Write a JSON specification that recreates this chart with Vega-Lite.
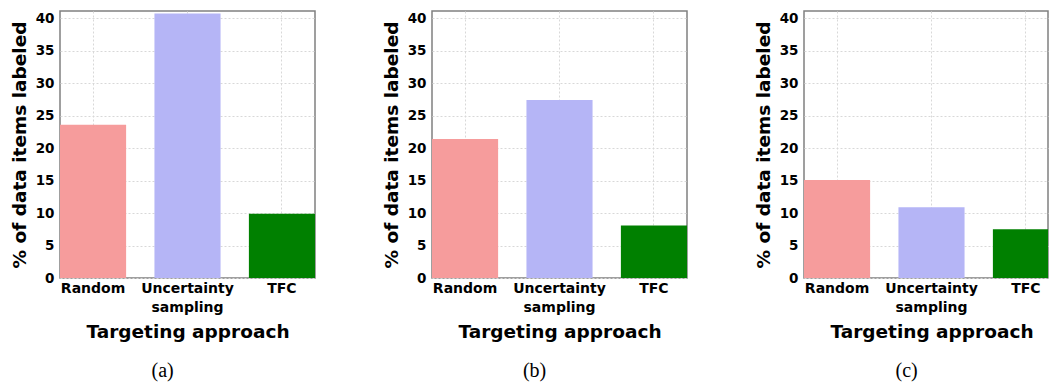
{
  "$schema": "https://vega.github.io/schema/vega-lite/v6.json",
  "padding": {"left": 9, "top": 10, "right": 0, "bottom": 0},
  "spacing": 117,
  "bounds": "flush",
  "background": "white",
  "config": {
    "font": "DejaVu Sans",
    "view": {"stroke": "#808080", "strokeWidth": 1.5},
    "axis": {
      "grid": true,
      "gridColor": "#d8d8d8",
      "gridDash": [2, 2],
      "gridWidth": 1,
      "ticks": false,
      "domain": false,
      "labelFont": "DejaVu Sans",
      "labelFontWeight": "bold",
      "labelColor": "#000000",
      "titleFont": "DejaVu Sans",
      "titleFontWeight": "bold",
      "titleColor": "#000000",
      "titleFontSize": 18.5
    },
    "axisX": {
      "labelAngle": 0,
      "labelFontSize": 14,
      "labelPadding": 3,
      "labelLineHeight": 19,
      "labelBaseline": "top",
      "titlePadding": 8,
      "bandPosition": 0.5
    },
    "axisY": {
      "labelFontSize": 13.5,
      "labelPadding": 6,
      "titlePadding": 6
    },
    "title": {
      "orient": "bottom",
      "frame": "bounds",
      "anchor": "middle",
      "font": "Liberation Serif",
      "fontWeight": "normal",
      "fontSize": 20,
      "color": "#000000",
      "offset": 20
    }
  },
  "datasets": {
    "a": [
      {"approach": "Random", "pct": 23.6},
      {"approach": "Uncertainty sampling", "pct": 40.7},
      {"approach": "TFC", "pct": 9.9}
    ],
    "b": [
      {"approach": "Random", "pct": 21.4},
      {"approach": "Uncertainty sampling", "pct": 27.4},
      {"approach": "TFC", "pct": 8.1}
    ],
    "c": [
      {"approach": "Random", "pct": 15.1},
      {"approach": "Uncertainty sampling", "pct": 10.9},
      {"approach": "TFC", "pct": 7.5}
    ]
  },
  "hconcat": [
    {
      "width": 255,
      "height": 267,
      "title": {"text": "(a)"},
      "data": {"name": "a"},
      "mark": {"type": "bar"},
      "encoding": {
        "x": {"field": "approach", "type": "nominal", "sort": null, "scale": {"paddingInner": 0.3, "paddingOuter": 0},
              "axis": {"title": "Targeting approach", "labelExpr": "datum.label == 'Uncertainty sampling' ? ['Uncertainty', 'sampling'] : datum.label"}},
        "y": {"field": "pct", "type": "quantitative", "scale": {"domain": [0, 41.1], "nice": false},
              "axis": {"title": "% of data items labeled", "values": [0, 5, 10, 15, 20, 25, 30, 35, 40]}},
        "color": {"field": "approach", "type": "nominal", "legend": null,
                  "scale": {"domain": ["Random", "Uncertainty sampling", "TFC"], "range": ["#f69c9c", "#b5b5f6", "#008000"]}}
      }
    },
    {
      "width": 255,
      "height": 267,
      "title": {"text": "(b)"},
      "data": {"name": "b"},
      "mark": {"type": "bar"},
      "encoding": {
        "x": {"field": "approach", "type": "nominal", "sort": null, "scale": {"paddingInner": 0.3, "paddingOuter": 0},
              "axis": {"title": "Targeting approach", "labelExpr": "datum.label == 'Uncertainty sampling' ? ['Uncertainty', 'sampling'] : datum.label"}},
        "y": {"field": "pct", "type": "quantitative", "scale": {"domain": [0, 41.1], "nice": false},
              "axis": {"title": "% of data items labeled", "values": [0, 5, 10, 15, 20, 25, 30, 35, 40]}},
        "color": {"field": "approach", "type": "nominal", "legend": null,
                  "scale": {"domain": ["Random", "Uncertainty sampling", "TFC"], "range": ["#f69c9c", "#b5b5f6", "#008000"]}}
      }
    },
    {
      "width": 244,
      "height": 267,
      "title": {"text": "(c)"},
      "data": {"name": "c"},
      "mark": {"type": "bar", "clip": true},
      "encoding": {
        "x": {"field": "approach", "type": "nominal", "sort": null, "scale": {"paddingInner": 0.3, "paddingOuter": 0, "range": [0, 255]},
              "axis": {"title": "Targeting approach", "labelExpr": "datum.label == 'Uncertainty sampling' ? ['Uncertainty', 'sampling'] : datum.label"}},
        "y": {"field": "pct", "type": "quantitative", "scale": {"domain": [0, 41.1], "nice": false},
              "axis": {"title": "% of data items labeled", "values": [0, 5, 10, 15, 20, 25, 30, 35, 40]}},
        "color": {"field": "approach", "type": "nominal", "legend": null,
                  "scale": {"domain": ["Random", "Uncertainty sampling", "TFC"], "range": ["#f69c9c", "#b5b5f6", "#008000"]}}
      }
    }
  ]
}
